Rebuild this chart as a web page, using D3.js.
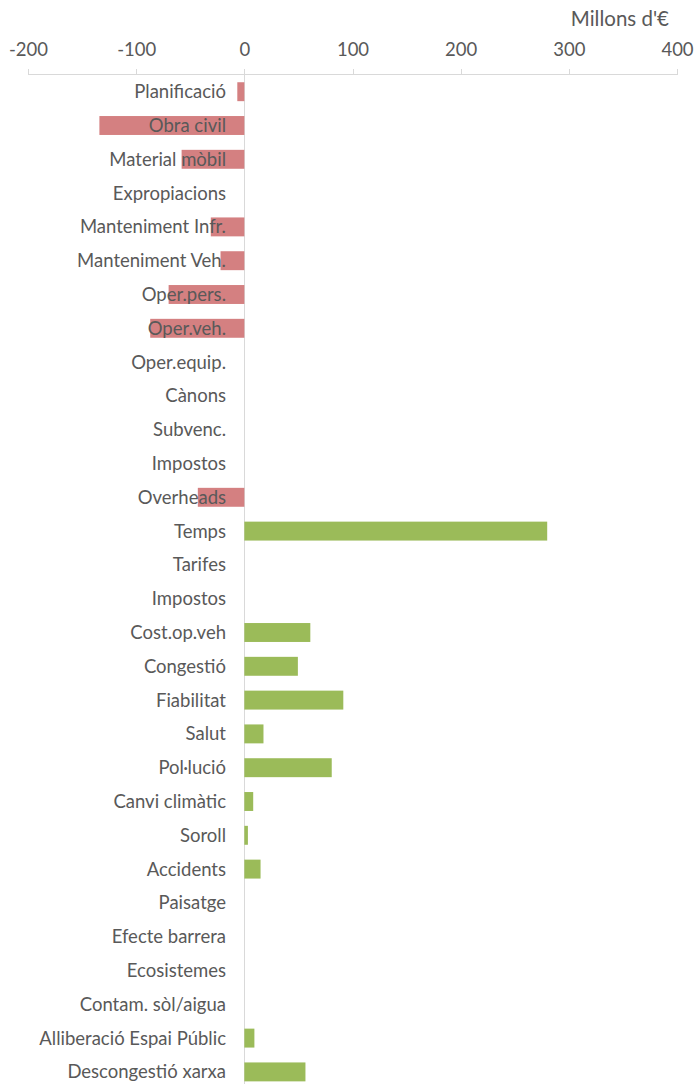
<!DOCTYPE html>
<html>
<head>
  <meta charset="utf-8">
  <style>
    body { margin: 0; background: #fff; }
    svg { display: block; }
    .axisTop path, .axisTop line { fill: none; stroke: #d9d9d9; shape-rendering: crispEdges; }
    .axisTop text, .lbl, .unit { font-family: Lato, "Open Sans", sans-serif; font-size: 18.5px; fill: #595959; }
    .unit { font-size: 20.5px; }
  </style>
</head>
<body>
  <svg width="694" height="1084"></svg>
  <script src="https://d3js.org/d3.v7.min.js"></script>
  <script>

  // categories, top to bottom
  var categories = ["Planificació", "Obra civil", "Material mòbil", "Expropiacions",
    "Manteniment Infr.", "Manteniment Veh.", "Oper.pers.", "Oper.veh.", "Oper.equip.",
    "Cànons", "Subvenc.", "Impostos", "Overheads", "Temps", "Tarifes", "Impostos",
    "Cost.op.veh", "Congestió", "Fiabilitat", "Salut", "Pol·lució", "Canvi climàtic",
    "Soroll", "Accidents", "Paisatge", "Efecte barrera", "Ecosistemes",
    "Contam. sòl/aigua", "Alliberació Espai Públic", "Descongestió xarxa"];

  // costs (negative) and benefits (positive), millions of euros
  var values = [-6.5, -134, -58, 0,
    -31, -22, -70, -87, 0,
    0, 0, 0, -43, 280, 0, 0,
    61, 49.5, 91.5, 17.7, 80.8, 8.2,
    3.3, 15, 0, 0, 0,
    0, 9.3, 56.5];

  var xTicks = [-200, -100, 0, 100, 200, 300, 400];
  var unitLabel = "Millons d'€";

  var svg = d3.select("svg");

  var x = d3.scaleLinear()
    .domain([-200, 400])
    .range([28, 677]);

  var idx = d3.range(categories.length);
  var y = d3.scaleBand()
    .domain(idx)
    .range([74.8, 74.8 + 33.8 * categories.length])
    .paddingInner(0.44)
    .paddingOuter(0.22);

  var axisY = 73.5;

  // top axis
  var ax = svg.append("g")
    .attr("class", "axisTop")
    .attr("transform", "translate(0," + axisY + ")")
    .call(d3.axisTop(x)
      .tickValues(xTicks)
      .tickFormat(function(d) { return String(d); })
      .tickSize(5).tickSizeOuter(5).tickPadding(13));
  ax.selectAll("text").attr("font-size", null).attr("font-family", null);

  svg.append("text")
    .attr("class", "unit")
    .attr("x", 669)
    .attr("y", 26)
    .attr("text-anchor", "end")
    .text(unitLabel);

  // zero line
  svg.append("line")
    .attr("x1", Math.round(x(0)) + 0.5)
    .attr("x2", Math.round(x(0)) + 0.5)
    .attr("y1", axisY)
    .attr("y2", 1084)
    .attr("stroke", "#d9d9d9");

  // bars
  svg.append("g")
    .selectAll("rect")
    .data(idx.filter(function(i) { return values[i] !== 0; }))
    .enter().append("rect")
    .attr("x", function(i) { return x(Math.min(0, values[i])); })
    .attr("y", function(i) { return y(i); })
    .attr("width", function(i) { return Math.abs(x(values[i]) - x(0)); })
    .attr("height", y.bandwidth())
    .attr("fill", function(i) { return values[i] < 0 ? "#d48081" : "#9bbb59"; });

  // category labels (on top of the bars)
  svg.append("g")
    .selectAll("text")
    .data(idx)
    .enter().append("text")
    .attr("class", "lbl")
    .attr("x", 226)
    .attr("y", function(i) { return y(i) + y.bandwidth() / 2; })
    .attr("dy", "0.35em")
    .attr("text-anchor", "end")
    .text(function(i) { return categories[i]; });

  </script>
</body>
</html>
